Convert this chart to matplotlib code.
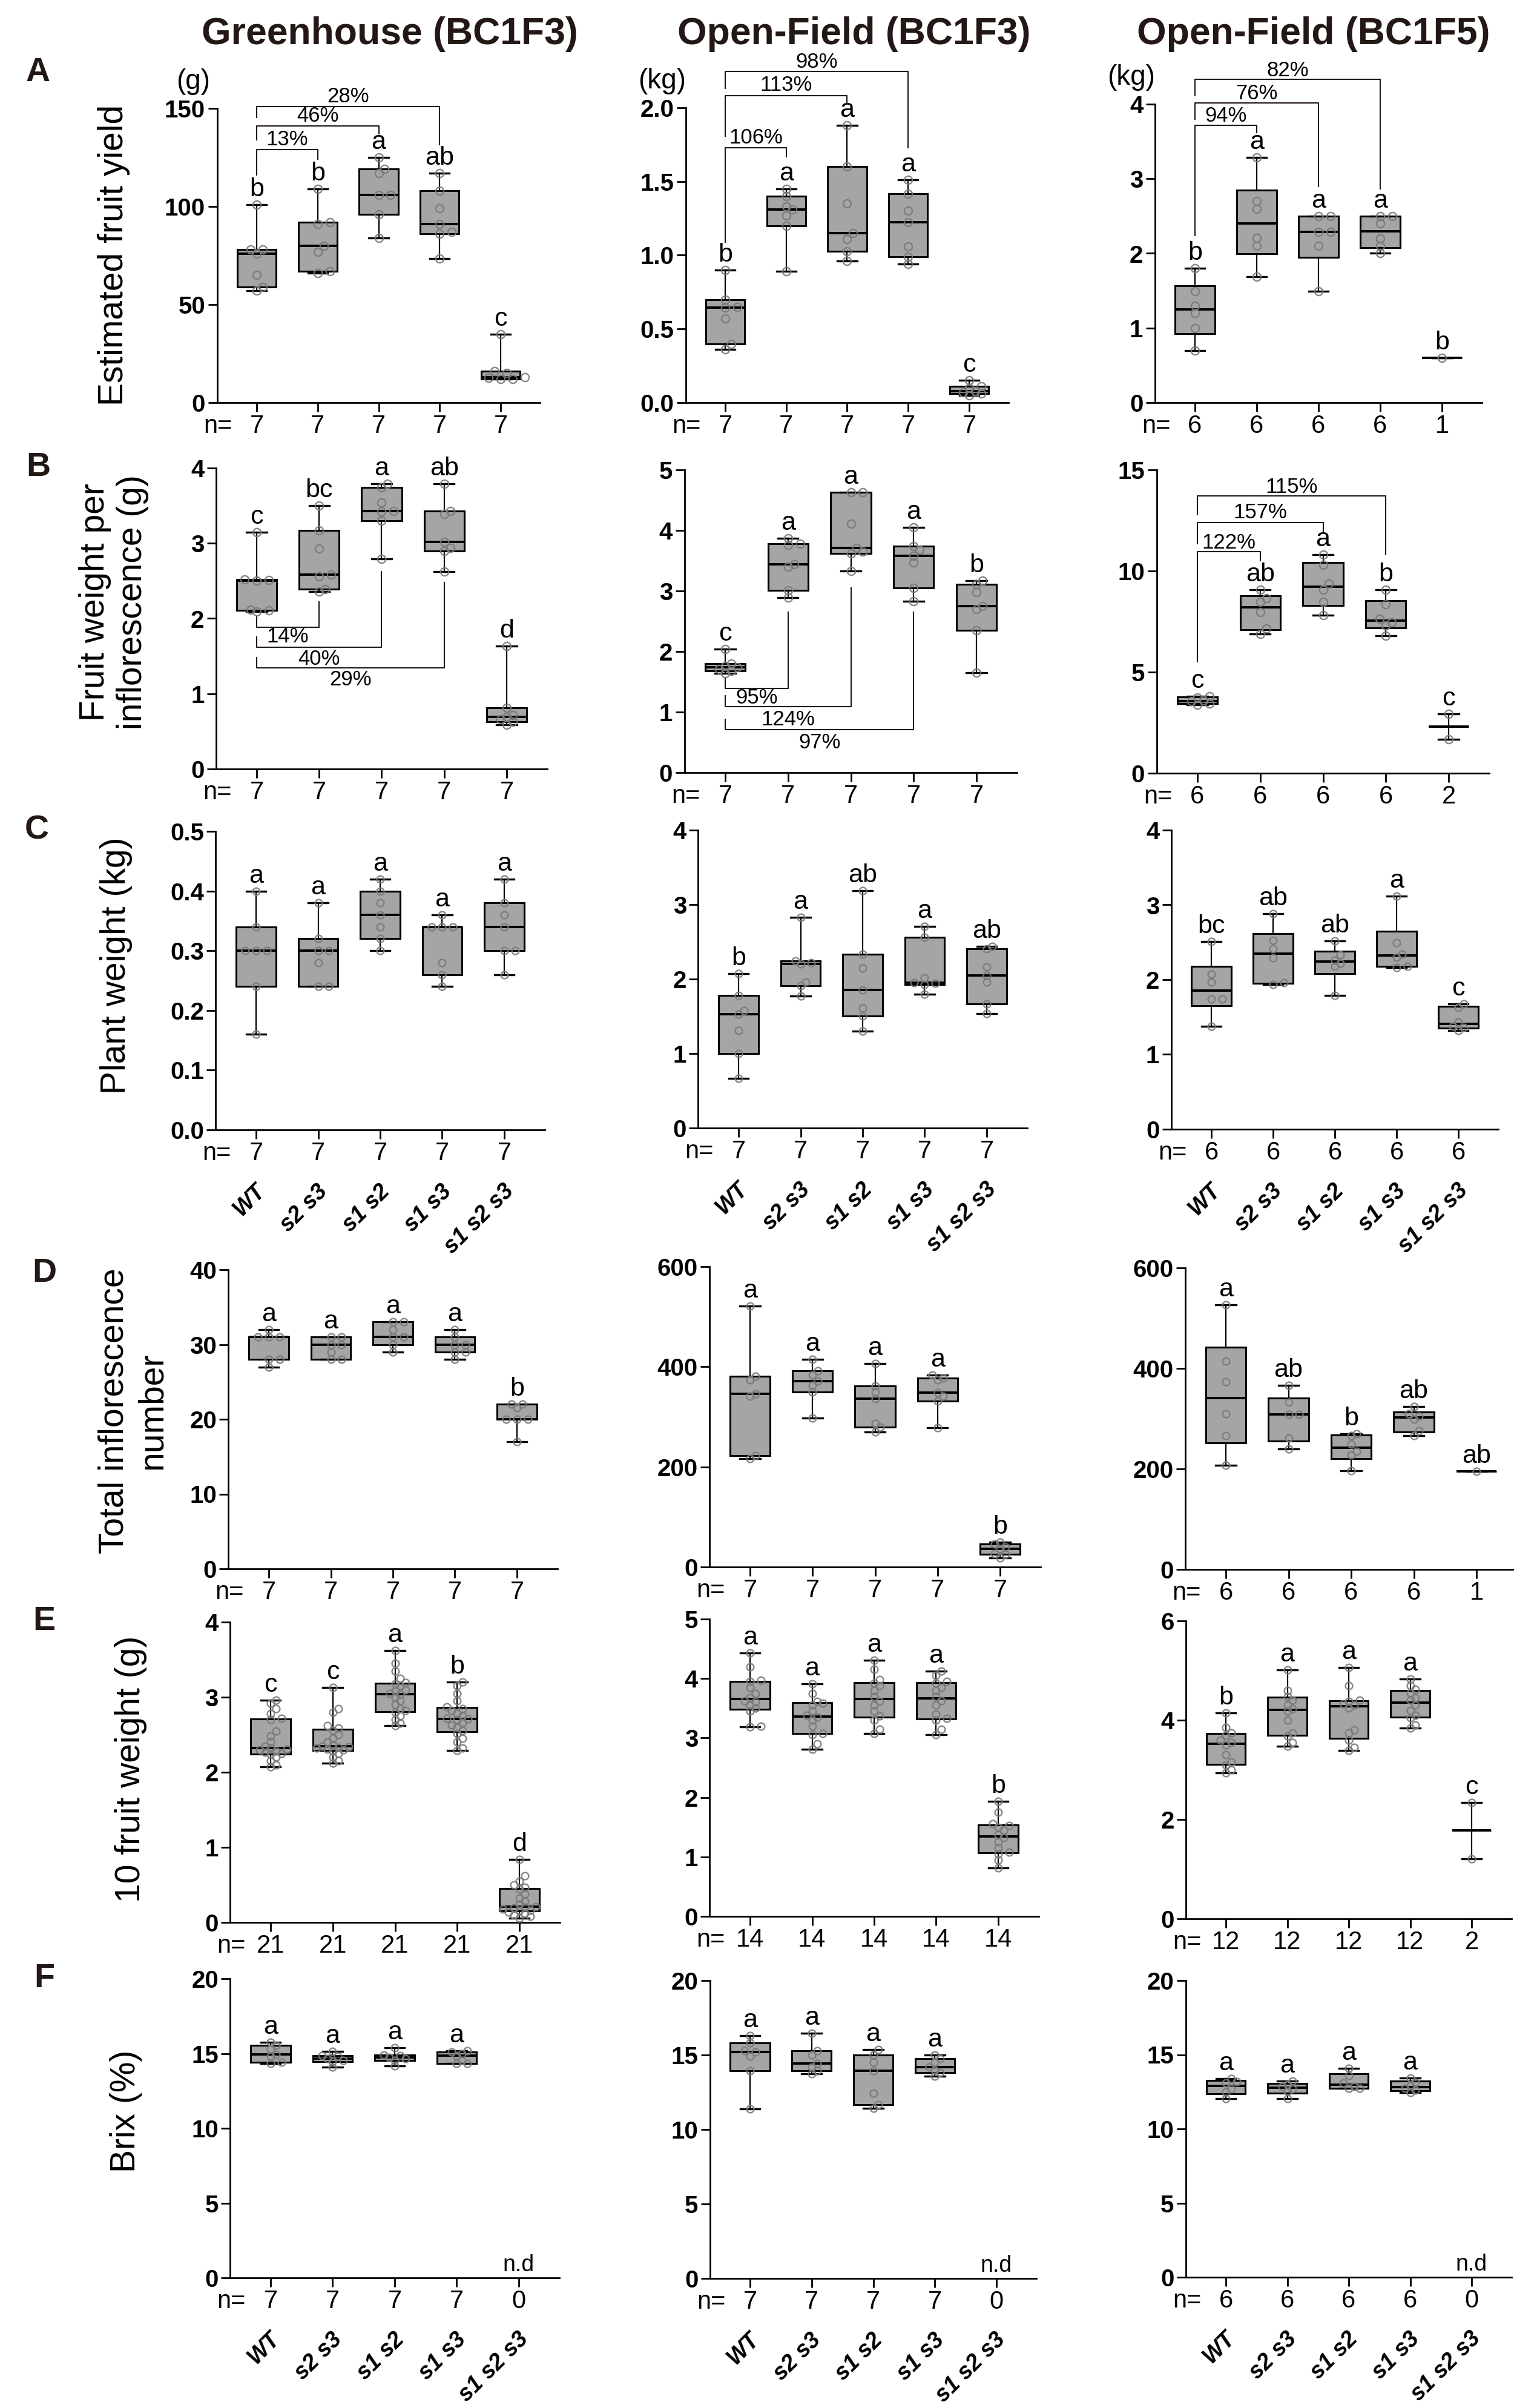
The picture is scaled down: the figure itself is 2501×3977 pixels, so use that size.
import numpy as np
import matplotlib
matplotlib.use("Agg")
import matplotlib.pyplot as plt
from matplotlib import font_manager

W, H, DPI = 2501, 3977, 100

_names = {f.name for f in font_manager.fontManager.ttflist}
BASE = "Liberation Sans" if "Liberation Sans" in _names else "DejaVu Sans"

GROUPS = ["WT", "s2 s3", "s1 s2", "s1 s3", "s1 s2 s3"]
COLUMN_TITLES = ["Greenhouse (BC1F3)", "Open-Field (BC1F3)", "Open-Field (BC1F5)"]
ROW_LETTERS = ["A", "B", "C", "D", "E", "F"]
ROW_YLABELS = ["Estimated fruit yield", "Fruit weight per\ninflorescence (g)",
               "Plant weight (kg)", "Total inflorescence\nnumber",
               "10 fruit weight (g)", "Brix (%)"]
UNIT_LABELS = ["(g)", "(kg)", "(kg)"]

# ---- A: estimated fruit yield
yield_gh = [[57, 59, 65, 76, 78, 78, 101], [66, 67, 77, 80, 91, 92, 109],
            [84, 96, 106, 106, 117, 119, 125], [73.5, 86, 87, 91, 99, 108, 117],
            [12, 12, 12.5, 13, 15, 16, 35]]
yield_of3 = [[0.36, 0.40, 0.57, 0.645, 0.65, 0.70, 0.90], [0.89, 1.20, 1.27, 1.31, 1.33, 1.40, 1.45],
             [0.96, 1.025, 1.11, 1.15, 1.35, 1.60, 1.88], [0.94, 0.99, 1.06, 1.225, 1.30, 1.415, 1.51],
             [0.05, 0.06, 0.07, 0.08, 0.10, 0.11, 0.15]]
yield_of5 = [[0.70, 1.0, 1.2, 1.3, 1.49, 1.8], [1.69, 2.10, 2.205, 2.60, 2.70, 3.29],
             [1.49, 2.10, 2.29, 2.29, 2.5, 2.5], [2.0, 2.105, 2.2, 2.4, 2.5, 2.5], [0.6]]
letters_yield = [["b", "b", "a", "ab", "c"], ["b", "a", "a", "a", "c"], ["b", "a", "a", "a", "b"]]

# ---- B: fruit weight per inflorescence
fwi_gh = [[2.09, 2.11, 2.12, 2.50, 2.51, 2.52, 3.15], [2.36, 2.39, 2.56, 2.58, 2.93, 3.17, 3.50],
          [2.79, 3.30, 3.42, 3.43, 3.54, 3.74, 3.79], [2.62, 2.90, 2.94, 3.02, 3.39, 3.43, 3.79],
          [0.59, 0.63, 0.66, 0.69, 0.72, 0.81, 1.63]]
fwi_of3 = [[1.64, 1.68, 1.71, 1.74, 1.76, 1.80, 2.04], [2.89, 3.01, 3.40, 3.44, 3.76, 3.78, 3.87],
           [3.33, 3.62, 3.645, 3.71, 4.11, 4.63, 4.63], [2.83, 3.05, 3.47, 3.58, 3.68, 3.735, 4.05],
           [1.65, 2.35, 2.70, 2.75, 2.98, 3.11, 3.17]]
fwi_of5 = [[3.38, 3.45, 3.55, 3.60, 3.75, 3.80], [6.90, 7.17, 7.96, 8.47, 8.66, 9.07],
           [7.80, 8.47, 9.07, 9.38, 10.29, 10.80], [6.81, 7.31, 7.45, 7.62, 8.34, 9.07], [1.665, 2.92]]
letters_fwi = [["c", "bc", "a", "ab", "d"], ["c", "a", "a", "a", "b"], ["c", "ab", "a", "b", "c"]]

# ---- C: plant weight
pw_gh = [[0.16, 0.24, 0.30, 0.30, 0.30, 0.34, 0.40], [0.24, 0.24, 0.28, 0.30, 0.30, 0.32, 0.38],
         [0.30, 0.32, 0.34, 0.36, 0.38, 0.40, 0.42], [0.24, 0.26, 0.28, 0.34, 0.34, 0.34, 0.36],
         [0.26, 0.30, 0.30, 0.34, 0.36, 0.38, 0.42]]
pw_of3 = [[0.67, 1.0, 1.31, 1.53, 1.58, 1.78, 2.07], [1.77, 1.91, 1.96, 2.20, 2.22, 2.24, 2.83],
          [1.30, 1.50, 1.61, 1.85, 2.15, 2.33, 3.19], [1.80, 1.93, 1.94, 1.95, 2.02, 2.56, 2.71],
          [1.54, 1.67, 1.96, 2.05, 2.16, 2.41, 2.44]]
pw_of5 = [[1.38, 1.74, 1.74, 1.97, 2.07, 2.51], [1.934, 1.956, 2.29, 2.41, 2.53, 2.88],
          [1.79, 2.18, 2.22, 2.26, 2.33, 2.52], [2.165, 2.18, 2.30, 2.34, 2.49, 3.115],
          [1.32, 1.36, 1.38, 1.43, 1.63, 1.68]]
letters_pw = [["a", "a", "a", "a", "a"], ["b", "a", "ab", "a", "ab"], ["bc", "ab", "ab", "a", "c"]]

# ---- D: total inflorescence number
inf_gh = [[27, 28, 28, 31, 31, 31, 32], [28, 28, 29, 30, 30, 31, 31], [29, 30, 31, 31, 32, 33, 33],
          [28, 29, 29, 30, 30, 31, 32], [17, 20, 20, 20, 21.5, 22, 22]]
inf_of3 = [[217, 223, 341, 346, 374, 381, 521], [297, 350, 363, 371, 383, 392, 415],
           [270, 280, 287, 336, 350, 362, 407], [278, 332, 341, 348, 374, 378, 383],
           [18, 25, 27, 36, 40, 46, 50]]
inf_of5 = [[207, 266, 310, 373, 415, 526], [240, 261, 308, 308, 333, 366],
           [196, 228, 235, 249, 266, 270], [266, 276, 299, 305, 310, 324], [195]]
letters_inf = [["a", "a", "a", "a", "b"], ["a", "a", "a", "a", "b"], ["a", "ab", "b", "ab", "ab"]]

# ---- E: 10 fruit weight
fw_gh = [[2.07, 2.10, 2.15, 2.20, 2.24, 2.25, 2.27, 2.28, 2.30, 2.31, 2.32, 2.35, 2.40, 2.48, 2.55,
          2.70, 2.72, 2.78, 2.85, 2.92, 2.96],
         [2.12, 2.15, 2.20, 2.25, 2.28, 2.30, 2.31, 2.32, 2.33, 2.34, 2.35, 2.36, 2.40, 2.45, 2.50,
          2.56, 2.59, 2.62, 2.80, 2.85, 3.13],
         [2.62, 2.65, 2.70, 2.75, 2.80, 2.82, 2.85, 2.90, 2.95, 3.00, 3.04, 3.05, 3.08, 3.10, 3.15,
          3.18, 3.19, 3.25, 3.35, 3.45, 3.62],
         [2.29, 2.32, 2.40, 2.45, 2.52, 2.56, 2.60, 2.63, 2.66, 2.70, 2.71, 2.72, 2.75, 2.78, 2.82,
          2.85, 2.87, 2.95, 3.05, 3.15, 3.20],
         [0.06, 0.08, 0.10, 0.12, 0.14, 0.16, 0.16, 0.18, 0.19, 0.20, 0.21, 0.24, 0.28, 0.32, 0.38,
          0.44, 0.47, 0.50, 0.55, 0.62, 0.84]]
fw_of3 = [[3.19, 3.20, 3.45, 3.50, 3.55, 3.60, 3.63, 3.68, 3.75, 3.85, 3.95, 3.97, 4.20, 4.43],
          [2.81, 2.90, 3.05, 3.08, 3.20, 3.30, 3.35, 3.38, 3.45, 3.55, 3.58, 3.62, 3.75, 3.91],
          [3.08, 3.15, 3.30, 3.37, 3.45, 3.55, 3.62, 3.70, 3.80, 3.88, 3.92, 3.98, 4.15, 4.31],
          [3.06, 3.15, 3.30, 3.33, 3.40, 3.55, 3.63, 3.70, 3.80, 3.85, 3.92, 3.95, 4.05, 4.12],
          [0.81, 0.95, 1.05, 1.08, 1.15, 1.25, 1.32, 1.37, 1.45, 1.50, 1.53, 1.56, 1.75, 1.93]]
fw_of5 = [[2.94, 3.00, 3.10, 3.16, 3.30, 3.50, 3.55, 3.60, 3.70, 3.74, 3.85, 4.15],
          [3.47, 3.55, 3.68, 3.75, 4.00, 4.18, 4.23, 4.30, 4.40, 4.48, 4.60, 5.01],
          [3.39, 3.45, 3.60, 3.75, 3.80, 4.25, 4.30, 4.33, 4.38, 4.40, 4.70, 5.06],
          [3.84, 3.90, 4.05, 4.10, 4.20, 4.30, 4.40, 4.45, 4.55, 4.62, 4.70, 4.83],
          [1.21, 2.34]]
letters_fw = [["c", "c", "a", "b", "d"], ["a", "a", "a", "a", "b"], ["b", "a", "a", "a", "c"]]

# ---- F: Brix
brix_gh = [[14.35, 14.40, 14.80, 14.95, 15.30, 15.55, 15.75], [14.08, 14.47, 14.55, 14.66, 14.80, 14.86, 15.13],
           [14.16, 14.55, 14.65, 14.74, 14.85, 14.90, 15.38], [14.35, 14.35, 14.55, 14.86, 15.0, 15.09, 15.19], []]
brix_of3 = [[11.4, 13.95, 14.9, 15.2, 15.3, 15.8, 16.3], [13.73, 13.96, 14.20, 14.45, 15.0, 15.30, 16.47],
            [11.43, 11.67, 12.45, 13.96, 14.5, 15.0, 15.35], [13.57, 13.82, 14.0, 14.2, 14.5, 14.76, 15.0], []]
brix_of5 = [[12.04, 12.5, 12.7, 13.1, 13.2, 13.4], [12.04, 12.55, 12.7, 12.85, 13.0, 13.22],
            [12.72, 12.72, 12.85, 13.1, 13.6, 14.1], [12.44, 12.6, 12.75, 12.9, 13.15, 13.42], []]
letters_brix = [["a", "a", "a", "a", "n.d"], ["a", "a", "a", "a", "n.d"], ["a", "a", "a", "a", "n.d"]]

DATA = [[yield_gh, yield_of3, yield_of5], [fwi_gh, fwi_of3, fwi_of5], [pw_gh, pw_of3, pw_of5],
        [inf_gh, inf_of3, inf_of5], [fw_gh, fw_of3, fw_of5], [brix_gh, brix_of3, brix_of5]]
LETTERS = [letters_yield, letters_fwi, letters_pw, letters_inf, letters_fw, letters_brix]

# comparison brackets: (from, to, bar y, left end, right end, label y, label)
BRACKETS = {
    (0, 0): [(0, 1, 129, 116, 124, 134, "13%"), (0, 2, 141, 134, 137, 146, "46%"),
             (0, 3, 151, 145.4, 131.4, 156, "28%")],
    (0, 1): [(0, 1, 1.727, 1.09, 1.666, 1.795, "106%"), (0, 2, 2.084, 1.805, 2.028, 2.155, "113%"),
             (0, 3, 2.245, 2.13, 1.73, 2.31, "98%")],
    (0, 2): [(0, 1, 3.718, 2.24, 3.615, 3.84, "94%"), (0, 2, 4.018, 3.8, 2.90, 4.14, "76%"),
             (0, 3, 4.33, 4.11, 2.865, 4.45, "82%")],
    (1, 0): [(0, 1, 1.887, 2.025, 2.225, 1.76, "14%"), (0, 2, 1.618, 1.753, 2.625, 1.46, "40%"),
             (0, 3, 1.342, 1.48, 2.48, 1.186, "29%")],
    (1, 1): [(0, 1, 1.387, 1.567, 2.65, 1.23, "95%"), (0, 2, 1.093, 1.274, 3.05, 0.88, "124%"),
             (0, 3, 0.709, 0.88, 2.65, 0.496, "97%")],
    (1, 2): [(0, 1, 10.965, 5.52, 10.50, 11.40, "122%"), (0, 2, 12.40, 11.35, 11.89, 12.89, "157%"),
             (0, 3, 13.70, 12.77, 10.80, 14.15, "115%")],
}

YTICKS = [[[0, 50, 100, 150], [0, 0.5, 1.0, 1.5, 2.0], [0, 1, 2, 3, 4]],
          [[0, 1, 2, 3, 4], [0, 1, 2, 3, 4, 5], [0, 5, 10, 15]],
          [[0, 0.1, 0.2, 0.3, 0.4, 0.5], [0, 1, 2, 3, 4], [0, 1, 2, 3, 4]],
          [[0, 10, 20, 30, 40], [0, 200, 400, 600], [0, 200, 400, 600]],
          [[0, 1, 2, 3, 4], [0, 1, 2, 3, 4, 5], [0, 2, 4, 6]],
          [[0, 5, 10, 15, 20]] * 3]
ONE_DECIMAL = {(0, 1), (2, 0)}

# pixel layout: first tick x, tick spacing, top y, zero y
LAYOUT = [
    [(424, 100.75, 179, 665), (1198, 100.75, 178, 665), (1974, 102, 172, 665)],
    [(424, 103.25, 773, 1270), (1198, 103.75, 776, 1276), (1978, 103.75, 776, 1277)],
    [(423, 102.5, 1373, 1866), (1220, 102.5, 1371, 1863), (2001, 102, 1371, 1865)],
    [(444, 102.5, 2097, 2591), (1239, 103.25, 2092, 2588), (2025, 103.5, 2094, 2592)],
    [(447, 102.75, 2679, 3175), (1239, 102.5, 2674, 3165), (2025, 101.5, 2677, 3169)],
    [(447, 102.5, 3268, 3762), (1239, 101.75, 3271, 3763), (2025, 101.5, 3271, 3761)],
]
TITLE_X = [644, 1411, 2170]
LETTER_POS = [(63, 120), (63, 772), (61, 1372), (73, 2103), (73, 2678), (73, 3268)]
YLABEL_POS = [(188, 421), (188, 995), (192, 1595), (220, 2330), (216, 2922), (208, 3487)]


def box_stats(vals):
    v = np.asarray(vals, float)
    if len(v) <= 2:
        m = float(np.median(v))
        q1 = q3 = m
    else:
        q1, m, q3 = np.percentile(v, [25, 50, 75], method="weibull")
    return dict(med=m, q1=q1, q3=q3, whislo=v.min(), whishi=v.max(), fliers=[])


def swarm(vals, pos, ypx, xpx, d):
    vals = np.asarray(vals, float)
    xs = np.zeros(len(vals))
    placed = []
    for i in np.argsort(vals):
        y = vals[i] * ypx
        for k in [0, 1, -1, 2, -2, 3, -3, 4, -4]:
            x = k * d * 0.8
            if all((x - px) ** 2 + (y - py) ** 2 >= (0.85 * d) ** 2 for px, py in placed):
                break
        placed.append((x, y))
        xs[i] = pos + x / xpx
    return xs


fig = plt.figure(figsize=(W / DPI, H / DPI), dpi=DPI)

for c, t in enumerate(COLUMN_TITLES):
    fig.text(TITLE_X[c] / W, 1 - 56 / H, t, ha="center", va="center",
             fontsize=45, fontweight="bold", family=BASE, color="#231815")

for r in range(6):
    lx, ly = LETTER_POS[r]
    fig.text(lx / W, 1 - ly / H, ROW_LETTERS[r], ha="center", va="center",
             fontsize=40, fontweight="bold", family=BASE, color="#231815")
    yx, yy = YLABEL_POS[r]
    fig.text(yx / W, 1 - yy / H, ROW_YLABELS[r], ha="center", va="center", rotation=90,
             fontsize=41, family=BASE, linespacing=1.2, multialignment="center")

    for c in range(3):
        t1, s, ytop, yzero = LAYOUT[r][c]
        left, right = t1 - 0.65 * s, t1 + 4.65 * s
        ax = fig.add_axes([left / W, 1 - yzero / H, (right - left) / W, (yzero - ytop) / H])
        yt = YTICKS[r][c]
        ymax = yt[-1]
        ax.set_xlim(0.35, 5.65)
        ax.set_ylim(0, ymax)
        ypx = (yzero - ytop) / ymax

        groups = DATA[r][c]
        pos = [i + 1 for i, g in enumerate(groups) if len(g)]
        stats = [box_stats(g) for g in groups if len(g)]
        ax.bxp(stats, positions=pos, widths=0.64, capwidths=0.32, patch_artist=True,
               showfliers=False, manage_ticks=False,
               boxprops=dict(facecolor="#a5a5a5", edgecolor="black", linewidth=2.2),
               medianprops=dict(color="black", linewidth=2.8),
               whiskerprops=dict(color="black", linewidth=1.6),
               capprops=dict(color="black", linewidth=2.4))

        msize = 9.5 if r < 2 else 8.5
        for i, g in enumerate(groups):
            if not len(g):
                continue
            xs = swarm(g, i + 1, ypx, s, msize * 1.3)
            ax.plot(xs, g, "o", ms=msize, mfc="none", mec="#7a7a7a", mew=1.7,
                    alpha=0.9, zorder=4, clip_on=False)

        # significance letters
        for i, lab in enumerate(LETTERS[r][c]):
            g = groups[i]
            if lab == "n.d":
                ax.annotate("n.d", (i + 1, 0), xytext=(0, 15), textcoords="offset points",
                            ha="center", va="center", fontsize=27, family=BASE)
                continue
            ax.annotate(lab, (i + 1, max(g)), xytext=(0, 18), textcoords="offset points",
                        ha="center", va="center", fontsize=31,
                        family=BASE, annotation_clip=False)

        for (a, b, yb, yl, yr, ylab, txt) in BRACKETS.get((r, c), []):
            ax.plot([a + 1, a + 1, b + 1, b + 1], [yl, yb, yb, yr], color="#231815",
                    lw=1.5, clip_on=False, zorder=2)
            ax.text((a + b) / 2 + 1, ylab, txt, ha="center", va="center",
                    fontsize=25, family=BASE, clip_on=False)

        # axes styling
        for sp in ["top", "right"]:
            ax.spines[sp].set_visible(False)
        for sp in ["left", "bottom"]:
            ax.spines[sp].set_linewidth(2.0)
        ax.tick_params(axis="both", direction="out", length=11, width=2.0, pad=3)
        ax.set_yticks(yt)
        fmt = "{:.1f}" if (r, c) in ONE_DECIMAL else "{:g}"
        ax.set_yticklabels([fmt.format(v) for v in yt], fontsize=29,
                           fontweight="bold", family=BASE)
        ax.set_xticks(range(1, 6))
        ax.set_xticklabels([str(len(g)) for g in groups], fontsize=30, family=BASE)
        ax.annotate("n=", (0.6, 0), xytext=(0, -14), textcoords="offset points",
                    ha="right", va="top", fontsize=30, family=BASE,
                    annotation_clip=False)

        if r == 0:
            ax.annotate(UNIT_LABELS[c], (0.35, ymax), xytext=(-28, 32), textcoords="offset points",
                        ha="center", va="center", fontsize=33, family=BASE, annotation_clip=False)

        if r in (2, 5):
            for i, name in enumerate(GROUPS):
                ax.annotate(name, (i + 1.22, 0), xytext=(0, -60), textcoords="offset points",
                            ha="right", va="top", rotation=45, fontsize=27,
                            fontweight="bold", style="italic", family=BASE,
                            annotation_clip=False)

fig.savefig("out.png", dpi=DPI)
